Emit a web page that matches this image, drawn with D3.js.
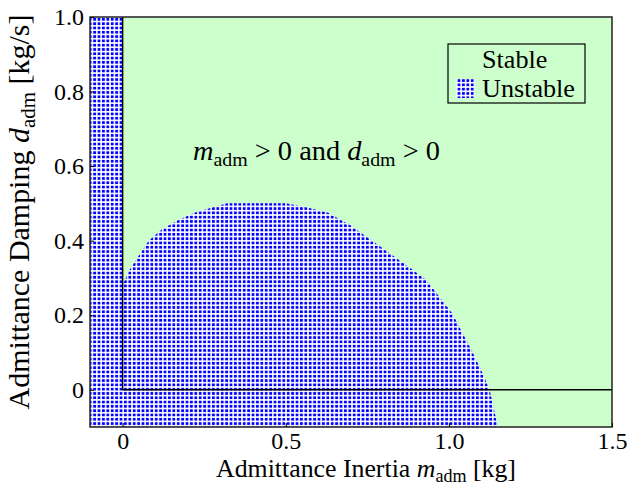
<!DOCTYPE html>
<html>
<head>
<meta charset="utf-8">
<script src="https://cdn.jsdelivr.net/npm/d3@7"></script>
<style>
  body { margin: 0; background: #fff; }
</style>
</head>
<body>
<div id="chart"></div>
<script>
// axis ranges and ticks
const xDomain = [-0.1, 1.5];
const yDomain = [-0.1, 1.0];
const xTicks = [0, 0.5, 1.0, 1.5];
const xTickLabels = ["0", "0.5", "1.0", "1.5"];
const yTicks = [0, 0.2, 0.4, 0.6, 0.8, 1.0];
const yTickLabels = ["0", "0.2", "0.4", "0.6", "0.8", "1.0"];

// stability boundary for m > 0 (m, d)
const boundaryM = [0, 0.02, 0.05, 0.08, 0.12, 0.17, 0.22, 0.28, 0.32, 0.50, 0.56, 0.63, 0.70, 0.78, 0.86, 0.93, 0.97, 1.01, 1.04, 1.07, 1.10, 1.125, 1.15];
const boundaryD = [0.28, 0.32, 0.36, 0.40, 0.43, 0.455, 0.475, 0.49, 0.50, 0.50, 0.49, 0.475, 0.44, 0.39, 0.34, 0.295, 0.25, 0.205, 0.155, 0.105, 0.05, 0.0, -0.1];

const legendLabels = ["Stable", "Unstable"];

const FONT = "Liberation Serif";
const width = 627, height = 491;
const margin = { left: 90, right: 15, top: 17, bottom: 64 };

const svg = d3.select("#chart").append("svg")
    .attr("width", width)
    .attr("height", height);

const x = d3.scaleLinear().domain(xDomain).range([margin.left, width - margin.right]);
const y = d3.scaleLinear().domain(yDomain).range([height - margin.bottom, margin.top]);

const defs = svg.append("defs");

// dotted fill for the unstable region
const pat = defs.append("pattern")
    .attr("id", "dots")
    .attr("patternUnits", "userSpaceOnUse")
    .attr("width", 4.4)
    .attr("height", 4.3);
pat.append("rect").attr("width", 4.4).attr("height", 4.3).attr("fill", "#fff");
pat.append("rect").attr("x", 0.8).attr("y", 0.8).attr("width", 2.8).attr("height", 2.7).attr("fill", "#0000ff");

defs.append("clipPath").attr("id", "plotClip")
    .append("rect")
    .attr("x", x(xDomain[0])).attr("y", y(yDomain[1]))
    .attr("width", x(xDomain[1]) - x(xDomain[0]))
    .attr("height", y(yDomain[0]) - y(yDomain[1]));

const plot = svg.append("g").attr("clip-path", "url(#plotClip)");

// stable background
plot.append("rect")
    .attr("x", x(xDomain[0])).attr("y", y(yDomain[1]))
    .attr("width", x(xDomain[1]) - x(xDomain[0]))
    .attr("height", y(yDomain[0]) - y(yDomain[1]))
    .attr("fill", "#ccffcc");

// unstable region: m < 0 strip plus area under the boundary
const unstable = [[xDomain[0], yDomain[0]], [xDomain[0], yDomain[1]], [0, yDomain[1]]]
    .concat(boundaryM.map((m, i) => [m, boundaryD[i]]));

plot.append("path")
    .datum(unstable)
    .attr("d", d3.line().x(d => x(d[0])).y(d => y(d[1])))
    .attr("fill", "url(#dots)");

// m > 0 and d > 0 quadrant outline
plot.append("path")
    .attr("d", `M${x(0)},${y(yDomain[1])}V${y(0)}H${x(xDomain[1])}`)
    .attr("fill", "none")
    .attr("stroke", "#000")
    .attr("stroke-width", 1.5);

// frame
svg.append("rect")
    .attr("x", x(xDomain[0])).attr("y", y(yDomain[1]))
    .attr("width", x(xDomain[1]) - x(xDomain[0]))
    .attr("height", y(yDomain[0]) - y(yDomain[1]))
    .attr("fill", "none")
    .attr("stroke", "#222")
    .attr("stroke-width", 1.5);

// axes with inward ticks
const xAxis = svg.append("g")
    .attr("transform", `translate(0,${y(yDomain[0])})`)
    .call(d3.axisBottom(x).tickValues(xTicks).tickSize(-4)
        .tickFormat((d, i) => xTickLabels[i]));
const yAxis = svg.append("g")
    .attr("transform", `translate(${x(xDomain[0])},0)`)
    .call(d3.axisLeft(y).tickValues(yTicks).tickSize(-4).tickPadding(6)
        .tickFormat((d, i) => yTickLabels[i]));
[xAxis, yAxis].forEach(a => {
    a.select(".domain").remove();
    a.selectAll("text").attr("fill", "#000").attr("font-size", 24);
    a.selectAll("line").attr("stroke", "#000");
});
xAxis.selectAll("text").attr("y", 22).attr("dy", 0);

// subscript helper: italic symbol + upright "adm"
function sym(t, s) {
    t.append("tspan").attr("font-style", "italic").text(s);
    t.append("tspan").attr("font-size", "0.7em").attr("dy", "0.3em").text("adm");
}

// axis titles
const xt = svg.append("text")
    .attr("x", 366).attr("y", 477)
    .attr("text-anchor", "middle")
    .attr("font-size", 24);
xt.append("tspan").text("Admittance Inertia ");
sym(xt, "m");
xt.append("tspan").attr("dy", "-0.21em").text(" [kg]");

const yt = svg.append("text")
    .attr("transform", "translate(29,212) rotate(-90)")
    .attr("text-anchor", "middle")
    .attr("font-size", 24);
yt.append("tspan").text("Admittance Damping ");
sym(yt, "d");
yt.append("tspan").attr("dy", "-0.21em").text(" [kg/s]");

// annotation
const ann = svg.append("text")
    .attr("x", 193).attr("y", 160)
    .attr("font-size", 24);
sym(ann, "m");
ann.append("tspan").attr("dy", "-0.21em").text(" > 0 and ");
sym(ann, "d");
ann.append("tspan").attr("dy", "-0.21em").text(" > 0");

// legend
const lg = svg.append("g").attr("transform", "translate(448,44)");
lg.append("rect")
    .attr("width", 137).attr("height", 59)
    .attr("fill", "none")
    .attr("stroke", "#000").attr("stroke-width", 1.2);
const fills = ["#ccffcc", "url(#dots)"];
const legendText = legendLabels.map((label, i) => {
    lg.append("rect")
        .attr("x", 8).attr("y", 6 + i * 29)
        .attr("width", 19).attr("height", 19)
        .attr("fill", fills[i]);
    return lg.append("text")
        .attr("x", 34).attr("y", 24 + i * 29)
        .attr("font-size", 24)
        .text(label);
});

svg.selectAll("text").style("font-family", FONT);

// size texts to the widths they take in the reference
function fit(sel, target) {
    const w = sel.node().getBBox().width;
    const fs = +sel.attr("font-size");
    sel.attr("font-size", fs * target / w);
}
fit(xt, 300);
fit(yt, 395);
fit(ann, 247);
fit(legendText[1], 93);
legendText[0].attr("font-size", legendText[1].attr("font-size"));
</script>
</body>
</html>
